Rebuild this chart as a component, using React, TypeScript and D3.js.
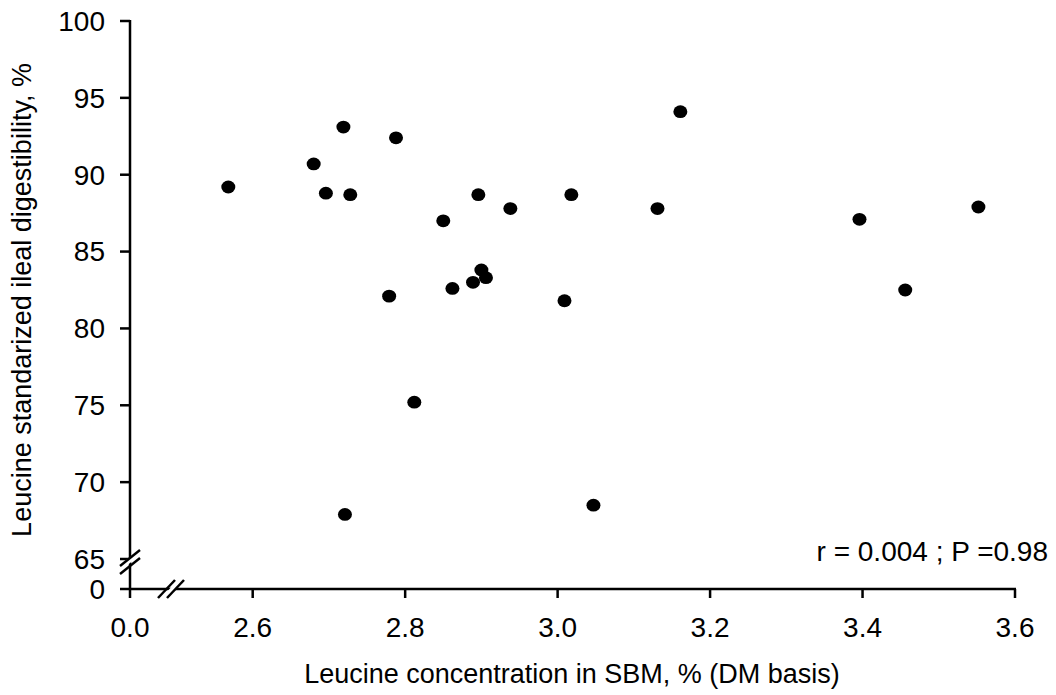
import React from "react";
import * as d3 from "d3";

const leucineConc = [2.568, 2.68, 2.696, 2.719, 2.721, 2.728, 2.788, 2.779, 2.812, 2.85, 2.862, 2.889, 2.896, 2.9, 2.906, 2.938, 3.009, 3.018, 3.047, 3.131, 3.161, 3.396, 3.456, 3.552];
const leucineSID = [89.2, 90.7, 88.8, 93.1, 67.9, 88.7, 92.4, 82.1, 75.2, 87.0, 82.6, 83.0, 88.7, 83.8, 83.3, 87.8, 81.8, 88.7, 68.5, 87.8, 94.1, 87.1, 82.5, 87.9];
const xTicks = [2.6, 2.8, 3.0, 3.2, 3.4, 3.6];
const yTicks = [65, 70, 75, 80, 85, 90, 95, 100];
const xTitle = "Leucine concentration in SBM, % (DM basis)";
const yTitle = "Leucine standarized ileal digestibility, %";
const annotation = "r = 0.004 ; P =0.98";

export default function App() {
  const W = 1056, H = 695;
  const axisX = 130, axisY = 589;
  const x = d3.scaleLinear().domain([2.6, 3.6]).range([252.7, 1015]);
  const y = d3.scaleLinear().domain([65, 100]).range([559, 21]);
  const font = "Liberation Sans, Arial, sans-serif";
  const fs = 28;
  const fsTitle = 27;
  const sw = 2.5;
  const breakY = 561;
  const breakX = 172;
  return (
    <svg width={W} height={H} style={{ position: "absolute", left: 0, top: 0, background: "#fff" }} fontFamily={font}>
      {/* y axis */}
      <line x1={axisX} x2={axisX} y1={y(100) - 1} y2={axisY + 9} stroke="#000" strokeWidth={sw} />
      {yTicks.map((t) => (
        <g key={t}>
          <line x1={axisX - 10} x2={axisX} y1={y(t)} y2={y(t)} stroke="#000" strokeWidth={sw} />
          <text x={axisX - 25} y={y(t)} dy="0.35em" textAnchor="end" fontSize={fs}>{t}</text>
        </g>
      ))}
      <line x1={axisX - 10} x2={axisX} y1={axisY} y2={axisY} stroke="#000" strokeWidth={sw} />
      <text x={axisX - 25} y={axisY} dy="0.35em" textAnchor="end" fontSize={fs}>0</text>
      {/* x axis */}
      <line x1={axisX} x2={x(3.6) + 1} y1={axisY} y2={axisY} stroke="#000" strokeWidth={sw} />
      {xTicks.map((t) => (
        <g key={t}>
          <line x1={x(t)} x2={x(t)} y1={axisY} y2={axisY + 9} stroke="#000" strokeWidth={sw} />
          <text x={x(t)} y={axisY + 48} textAnchor="middle" fontSize={fs}>{t.toFixed(1)}</text>
        </g>
      ))}
      <text x={axisX} y={axisY + 48} textAnchor="middle" fontSize={fs}>0.0</text>
      {/* y break */}
      <polygon points={`${axisX - 10},${breakY + 10} ${axisX + 10},${breakY - 6} ${axisX + 10},${breakY - 12} ${axisX - 10},${breakY + 4}`} fill="#fff" />
      <line x1={axisX - 10} y1={breakY + 13} x2={axisX + 10} y2={breakY - 3} stroke="#000" strokeWidth={sw} />
      <line x1={axisX - 10} y1={breakY + 5} x2={axisX + 10} y2={breakY - 11} stroke="#000" strokeWidth={sw} />
      {/* x break */}
      <polygon points={`${breakX - 10},${axisY + 8} ${breakX + 5},${axisY - 8} ${breakX + 11},${axisY - 8} ${breakX - 4},${axisY + 8}`} fill="#fff" />
      <line x1={breakX - 14} y1={axisY + 9} x2={breakX + 3} y2={axisY - 9} stroke="#000" strokeWidth={sw} />
      <line x1={breakX - 5} y1={axisY + 9} x2={breakX + 12} y2={axisY - 9} stroke="#000" strokeWidth={sw} />
      {/* points */}
      {leucineConc.map((v, i) => (
        <ellipse key={i} cx={x(v)} cy={y(leucineSID[i])} rx={7} ry={6.4} fill="#000" />
      ))}
      {/* annotation */}
      <text x={1048} y={551} dy="0.35em" textAnchor="end" fontSize={fs}>{annotation}</text>
      {/* titles */}
      <text x={572} y={683} textAnchor="middle" fontSize={fsTitle}>{xTitle}</text>
      <text transform={`translate(22,${(y(100) + axisY) / 2 - 5}) rotate(-90)`} textAnchor="middle" dy="0.35em" fontSize={fsTitle}>{yTitle}</text>
    </svg>
  );
}
